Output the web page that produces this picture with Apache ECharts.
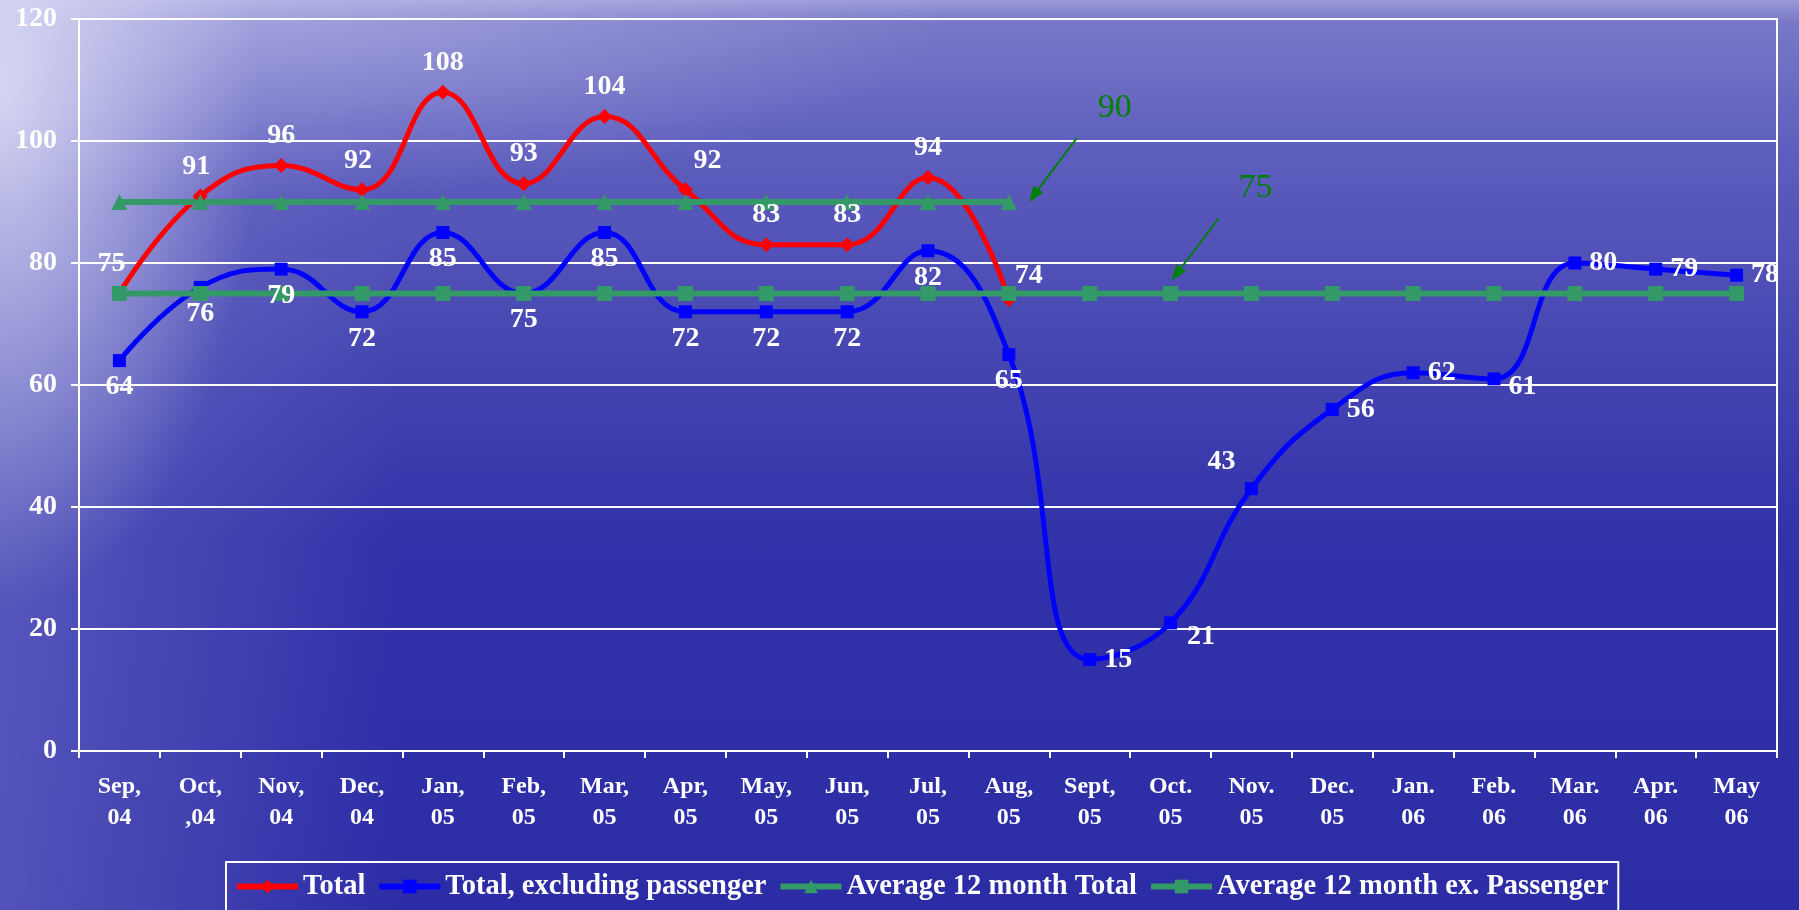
<!DOCTYPE html>
<html>
<head>
<meta charset="utf-8">
<script src="https://cdn.jsdelivr.net/npm/echarts@6/dist/echarts.min.js"></script>
<style>
  html, body { margin: 0; padding: 0; width: 1799px; height: 910px; overflow: hidden; }
  #bg {
    position: absolute; left: 0; top: 0; width: 1799px; height: 910px;
    background:
      radial-gradient(ellipse 260px 520px at 0px 90px, rgba(232,232,250,0.8), rgba(232,232,250,0) 100%),
      radial-gradient(ellipse 700px 200px at 250px 0px, rgba(205,205,242,0.5), rgba(205,205,242,0) 100%),
      linear-gradient(90deg, rgba(140,140,215,0.4) 0px, rgba(140,140,215,0) 400px),
      linear-gradient(180deg, #9a9ad8 0px, #7878c8 22px, #5e5ebe 150px, #4646b2 350px, #3232a9 540px, #2c2ca6 910px);
  }
  #chart { position: absolute; left: 0; top: 0; width: 1799px; height: 910px; }
</style>
</head>
<body>
<div id="bg"></div>
<div id="chart"></div>
<script>
// Monthly index values, Sep 2004 – May 2006
const months = [
  'Sep,\n04', 'Oct,\n,04', 'Nov,\n04', 'Dec,\n04', 'Jan,\n05', 'Feb,\n05', 'Mar,\n05',
  'Apr,\n05', 'May,\n05', 'Jun,\n05', 'Jul,\n05', 'Aug,\n05', 'Sept,\n05', 'Oct.\n05',
  'Nov.\n05', 'Dec.\n05', 'Jan.\n06', 'Feb.\n06', 'Mar.\n06', 'Apr.\n06', 'May\n06'
];
const totalValues = [75, 91, 96, 92, 108, 93, 104, 92, 83, 83, 94, 74];
const exPassengerValues = [64, 76, 79, 72, 85, 75, 85, 72, 72, 72, 82, 65, 15, 21, 43, 56, 62, 61, 80, 79, 78];
const avgTotalValues = [90, 90, 90, 90, 90, 90, 90, 90, 90, 90, 90, 90];
const avgExPassengerValues = [75, 75, 75, 75, 75, 75, 75, 75, 75, 75, 75, 75, 75, 75, 75, 75, 75, 75, 75, 75, 75];
const yMin = 0, yMax = 120, yStep = 20;

// Callouts for the two 12-month averages
const callouts = [
  { text: '90', month: 'Aug,\n05', value: 90 },
  { text: '75', month: 'Oct.\n05', value: 75 }
];

const FONT = "'Liberation Serif', 'Times New Roman', serif";
const GREEN = '#339966';

// where each "excluding passenger" label sits relative to its point
const exLabelSide = ['bottom', 'bottom', 'bottom', 'bottom', 'bottom', 'bottom', 'bottom', 'bottom',
  'bottom', 'bottom', 'bottom', 'bottom', 'right', 'right', 'top', 'right', 'right', 'right',
  'right', 'right', 'right'];
const exLabelShift = { 13: [2, 14], 14: [-30, 0], 17: [0, 8] };
const totalLabelShift = { 0: [-8, 0], 1: [-4, 0], 3: [-4, 0], 7: [22, 0], 11: [20, 6] };

const labelBase = {
  show: true, color: '#ffffff', fontFamily: FONT, fontWeight: 'bold', fontSize: 28
};

const chart = echarts.init(document.getElementById('chart'), null, { renderer: 'canvas' });

chart.setOption({
  animation: false,
  backgroundColor: 'transparent',
  textStyle: { fontFamily: FONT },
  grid: {
    left: 79, right: 22, top: 19, bottom: 159,
    show: true, borderColor: '#ffffff', borderWidth: 2, backgroundColor: 'transparent'
  },
  legend: {
    left: 226, top: 862,
    padding: [10, 10, 40, 8],
    borderColor: '#ffffff', borderWidth: 2,
    itemWidth: 61, itemHeight: 17, itemGap: 11,
    lineStyle: { width: 6 },
    textStyle: { color: '#ffffff', fontFamily: FONT, fontWeight: 'bold', fontSize: 28.5 },
    data: ['Total', 'Total, excluding passenger', 'Average 12 month Total', 'Average 12 month ex. Passenger']
  },
  xAxis: {
    type: 'category',
    data: months,
    boundaryGap: true,
    axisLine: { lineStyle: { color: '#ffffff', width: 2 } },
    axisTick: { show: true, length: 7, lineStyle: { color: '#ffffff', width: 2 } },
    axisLabel: {
      interval: 0, color: '#ffffff', fontFamily: FONT, fontWeight: 'bold',
      fontSize: 24, lineHeight: 31, margin: 20
    },
    splitLine: { show: false }
  },
  yAxis: {
    type: 'value',
    min: yMin, max: yMax, interval: yStep,
    axisLine: { show: true, lineStyle: { color: '#ffffff', width: 2 } },
    axisTick: { show: true, length: 8, lineStyle: { color: '#ffffff', width: 2 } },
    axisLabel: {
      color: '#ffffff', fontFamily: FONT, fontWeight: 'bold', fontSize: 28, margin: 22
    },
    splitLine: { show: true, lineStyle: { color: '#ffffff', width: 2 } }
  },
  series: [
    {
      name: 'Total',
      type: 'line',
      data: totalValues.map((v, i) => ({
        value: v,
        label: { offset: totalLabelShift[i] || [0, 0] }
      })),
      smooth: 0.45,
      symbol: 'diamond', symbolSize: 15,
      lineStyle: { color: '#ff0000', width: 5 },
      itemStyle: { color: '#ff0000' },
      label: Object.assign({}, labelBase, { position: 'top', distance: 8 })
    },
    {
      name: 'Total, excluding passenger',
      type: 'line',
      data: exPassengerValues.map((v, i) => ({
        value: v,
        label: {
          position: exLabelSide[i],
          offset: exLabelShift[i] || [0, 0],
          distance: exLabelSide[i] === 'right' ? 8 : 6
        }
      })),
      smooth: 0.45,
      symbol: 'rect', symbolSize: 13,
      lineStyle: { color: '#0000ff', width: 5 },
      itemStyle: { color: '#0000ff' },
      label: Object.assign({}, labelBase)
    },
    {
      name: 'Average 12 month Total',
      type: 'line',
      data: avgTotalValues,
      symbol: 'triangle', symbolSize: 16,
      lineStyle: { color: GREEN, width: 6 },
      itemStyle: { color: GREEN }
    },
    {
      name: 'Average 12 month ex. Passenger',
      type: 'line',
      data: avgExPassengerValues,
      symbol: 'rect', symbolSize: 15,
      lineStyle: { color: GREEN, width: 6 },
      itemStyle: { color: GREEN }
    }
  ]
});

// Green arrow callouts pointing at the average lines
const calloutGeom = [
  { tipShift: [20, 0], tail: [48, -64], textAt: [86, -94] },
  { tipShift: [1, -13], tail: [47, -62], textAt: [84, -92] }
];
const graphics = [];
callouts.forEach((c, k) => {
  const p = chart.convertToPixel({ xAxisIndex: 0, yAxisIndex: 0 }, [months.indexOf(c.month), c.value]);
  const g = calloutGeom[k];
  const tip = [p[0] + g.tipShift[0], p[1] + g.tipShift[1]];
  const tail = [tip[0] + g.tail[0], tip[1] + g.tail[1]];
  const dx = tip[0] - tail[0], dy = tip[1] - tail[1];
  const len = Math.sqrt(dx * dx + dy * dy);
  const ux = dx / len, uy = dy / len;
  const headLen = 16, headHalf = 6;
  const base = [tip[0] - ux * headLen, tip[1] - uy * headLen];
  graphics.push({
    type: 'line',
    shape: { x1: tail[0], y1: tail[1], x2: base[0], y2: base[1] },
    style: { stroke: '#008000', lineWidth: 2 },
    z: 10
  });
  graphics.push({
    type: 'polygon',
    shape: { points: [tip, [base[0] - uy * headHalf, base[1] + ux * headHalf], [base[0] + uy * headHalf, base[1] - ux * headHalf]] },
    style: { fill: '#008000' },
    z: 10
  });
  graphics.push({
    type: 'text',
    x: tip[0] + g.textAt[0], y: tip[1] + g.textAt[1],
    style: {
      text: c.text, fill: '#008000', font: "34px 'Liberation Serif', 'Times New Roman', serif",
      align: 'center', verticalAlign: 'middle'
    },
    z: 10
  });
});
chart.setOption({ graphic: graphics });
</script>
</body>
</html>
